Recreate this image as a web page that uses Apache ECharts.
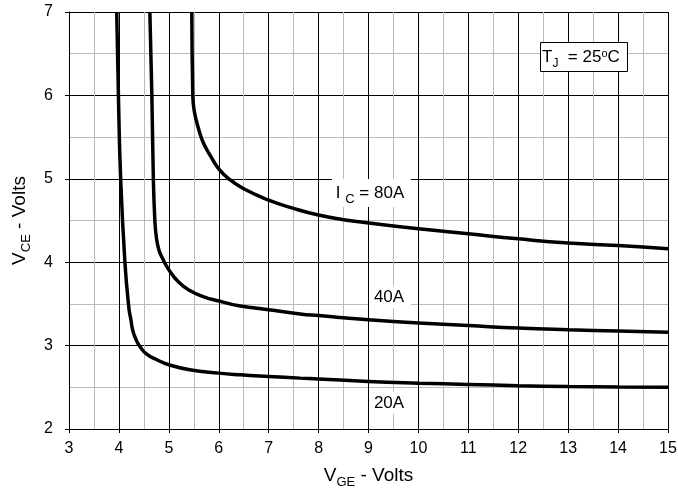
<!DOCTYPE html>
<html><head><meta charset="utf-8">
<script src="https://cdn.jsdelivr.net/npm/echarts@6/dist/echarts.min.js"></script>
<style>html,body{margin:0;padding:0;background:#fff}#c{width:678px;height:489px}</style>
</head><body><div id="c"></div>
<script>
// V_GE (x) and V_CE (y) readings for each collector current
const vge20 = [3.956, 3.99, 4.035, 4.12, 4.2, 4.24, 4.27, 4.31, 4.36, 4.42, 4.55, 4.76, 5.0, 5.42, 6.0, 6.43, 7.0, 7.63, 8, 9, 10, 11, 12, 13, 14, 15];
const vce20 = [7.0, 6.0, 5.0, 4.0, 3.45, 3.31, 3.2, 3.12, 3.05, 2.99, 2.9, 2.83, 2.77, 2.71, 2.67, 2.65, 2.63, 2.61, 2.60, 2.57, 2.55, 2.535, 2.52, 2.51, 2.505, 2.50];
const vge40 = [4.62, 4.66, 4.69, 4.72, 4.75, 4.8, 4.87, 5.0, 5.2, 5.42, 5.7, 6.0, 6.43, 7.0, 7.63, 8, 9, 10, 11, 12, 13, 14, 15];
const vce40 = [7.0, 6.0, 5.0, 4.5, 4.3, 4.15, 4.05, 3.91, 3.76, 3.66, 3.585, 3.535, 3.475, 3.43, 3.38, 3.36, 3.31, 3.27, 3.24, 3.21, 3.19, 3.175, 3.16];
const vge80 = [5.46, 5.48, 5.5, 5.55, 5.62, 5.7, 5.84, 6.0, 6.2, 6.5, 7.0, 7.5, 8.0, 8.5, 9, 10, 11, 12, 13, 14, 15];
const vce80 = [7.0, 6.0, 5.85, 5.7, 5.55, 5.42, 5.27, 5.12, 5.0, 4.88, 4.745, 4.645, 4.565, 4.51, 4.47, 4.40, 4.34, 4.28, 4.23, 4.20, 4.16];
const xRange = [3, 15];
const yRange = [2, 7];
const labels = ['I', 'C', ' = 80A', '40A', '20A'];
const tjText = ['T', 'J', '  = 25', 'o', 'C'];

const FONT = 'Liberation Sans, Arial, Helvetica, sans-serif';
function pts(xs, ys) { return xs.map((x, i) => [x, ys[i]]); }
function curve(name, xs, ys) {
  return {
    name, type: 'line', data: pts(xs, ys), showSymbol: false, symbol: 'none',
    smooth: 0.5, clip: true,
    lineStyle: { color: '#000', width: 3.5 }, silent: true
  };
}
const nameRich = {
  v: { fontSize: 19, fontFamily: FONT, color: '#000', verticalAlign: 'bottom' },
  s: { fontSize: 13, fontFamily: FONT, color: '#000', verticalAlign: 'bottom', padding: [0, 0, -4, 0] }
};
function axisCommon() {
  return {
    axisLine: { show: true, lineStyle: { color: '#000', width: 1 } },
    axisTick: { show: true, length: 4, inside: false, lineStyle: { color: '#000' } },
    splitLine: { show: true, lineStyle: { color: '#000', width: 1 } },
    minorTick: { show: false, splitNumber: 2 },
    minorSplitLine: { show: true, lineStyle: { color: '#bbb', width: 1 } }
  };
}

const chart = echarts.init(document.getElementById('c'), null, { renderer: 'canvas' });
chart.setOption({
  animation: false,
  backgroundColor: '#fff',
  grid: { left: 69, right: 10, top: 12, bottom: 60, containLabel: false, outerBoundsMode: 'none' },
  xAxis: Object.assign(axisCommon(), {
    type: 'value', min: xRange[0], max: xRange[1], interval: 1,
    name: '{v|V}{s|GE}{v| - Volts}', nameLocation: 'middle', nameGap: 37,
    nameTextStyle: { fontFamily: FONT, color: '#000', rich: nameRich },
    axisLabel: { fontFamily: FONT, fontSize: 16, color: '#000', margin: 12 }
  }),
  yAxis: Object.assign(axisCommon(), {
    type: 'value', min: yRange[0], max: yRange[1], interval: 1,
    name: '{v|V}{s|CE}{v| - Volts}', nameLocation: 'middle', nameGap: 35,
    nameTextStyle: { fontFamily: FONT, color: '#000', rich: nameRich },
    axisLabel: { fontFamily: FONT, fontSize: 16, color: '#000', margin: 16 }
  }),
  series: [curve('20A', vge20, vce20), curve('40A', vge40, vce40), curve('80A', vge80, vce80)],
  graphic: [
    { type: 'rect', shape: { x: 332, y: 179, width: 79, height: 28 }, style: { fill: '#fff' }, z: 100 },
    { type: 'text', x: 370, y: 193, z: 101,
      style: { text: '{a|' + labels[0] + ' }{s|' + labels[1] + '}{a|' + labels[2] + '}', align: 'center', verticalAlign: 'middle',
        rich: { a: { fontSize: 17, fontFamily: FONT, fill: '#000', verticalAlign: 'bottom' },
                s: { fontSize: 13, fontFamily: FONT, fill: '#000', verticalAlign: 'bottom', padding: [0, 0, -4, 0] } } } },
    { type: 'rect', shape: { x: 369, y: 286, width: 42, height: 22 }, style: { fill: '#fff' }, z: 100 },
    { type: 'text', x: 389, y: 297, z: 101,
      style: { text: labels[3], align: 'center', verticalAlign: 'middle', fontSize: 17, fontFamily: FONT, fill: '#000' } },
    { type: 'rect', shape: { x: 369, y: 392, width: 42, height: 22 }, style: { fill: '#fff' }, z: 100 },
    { type: 'text', x: 389, y: 403, z: 101,
      style: { text: labels[4], align: 'center', verticalAlign: 'middle', fontSize: 17, fontFamily: FONT, fill: '#000' } },
    { type: 'rect', shape: { x: 540.5, y: 42.5, width: 87, height: 29 }, style: { fill: '#fff', stroke: '#000', lineWidth: 1 }, z: 100 },
    { type: 'text', x: 542, y: 57, z: 101,
      style: { text: '{a|' + tjText[0] + '}{s|' + tjText[1] + '}{a|' + tjText[2] + '}{p|' + tjText[3] + '}{a|' + tjText[4] + '}',
        align: 'left', verticalAlign: 'middle',
        rich: { a: { fontSize: 17, fontFamily: FONT, fill: '#000', verticalAlign: 'bottom' },
                s: { fontSize: 12, fontFamily: FONT, fill: '#000', verticalAlign: 'bottom', padding: [0, 0, -4, 0] },
                p: { fontSize: 11, fontFamily: FONT, fill: '#000', verticalAlign: 'top' } } } }
  ]
});
</script></body></html>
